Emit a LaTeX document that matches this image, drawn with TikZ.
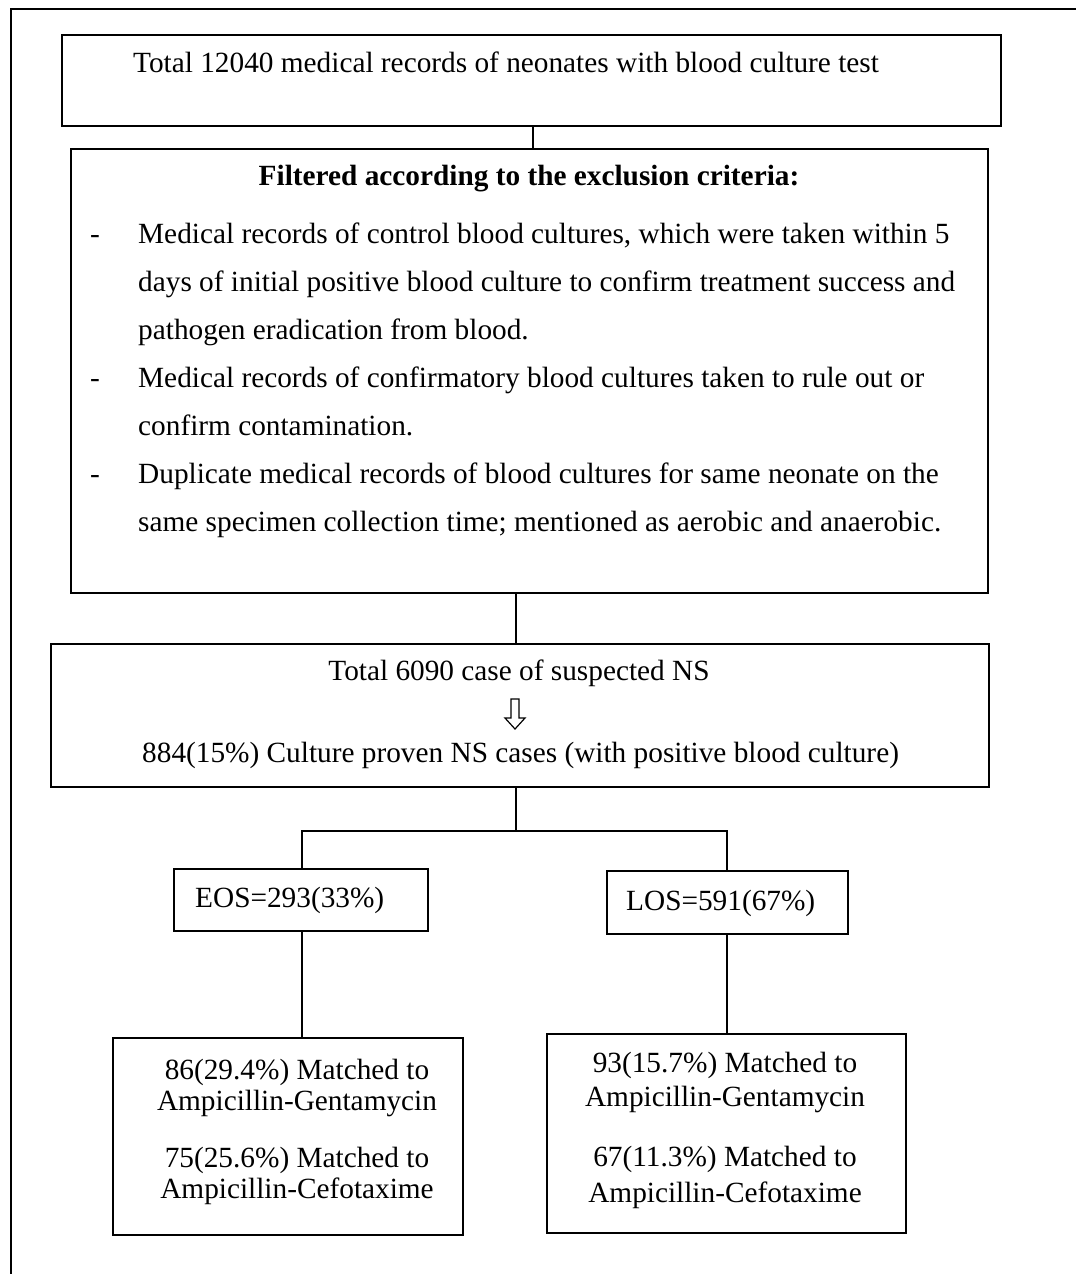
\documentclass[tikz,border=0pt]{standalone}
\usepackage{fontspec}
\setmainfont{Liberation Serif}
\begin{document}
\begin{tikzpicture}[x=1pt,y=-1pt,
  box/.style={draw,line width=1.6pt,inner sep=0pt,anchor=north west},
  conn/.style={line width=1.4pt},
  txt/.style={inner sep=0pt,font=\fontsize{29.3}{33}\selectfont},
  frame/.style={line width=1.6pt}]
\useasboundingbox (0,0) rectangle (1076,1274);
% outer frame (top and left only)
\coordinate (fb) at (11,1274);
\coordinate (fc) at (11,9);
\coordinate (fr) at (1076,9);
\draw[frame] (fb) -- (fc) -- (fr);
% boxes
\node[box,minimum width=939pt,minimum height=91pt] (b1) at (61,34) {};
\node[box,minimum width=917pt,minimum height=444pt] (b2) at (70,148) {};
\node[box,minimum width=938pt,minimum height=143pt] (b3) at (50,643) {};
\node[box,minimum width=254pt,minimum height=62pt] (eos) at (173,868) {};
\node[box,minimum width=241pt,minimum height=63pt] (los) at (606,870) {};
\node[box,minimum width=350pt,minimum height=197pt] (eb) at (112,1037) {};
\node[box,minimum width=359pt,minimum height=199pt] (lb) at (546,1033) {};
% texts
\node[txt,anchor=base west] (t0) at (133,72) {Total 12040 medical records of neonates with blood culture test};
\node[txt,anchor=base,font=\fontsize{29.3}{33}\selectfont\bfseries] (h) at (529,185) {Filtered according to the exclusion criteria:};
\foreach \i/\y in {1/243,4/387,6/483}{
  \node[txt,anchor=base west] (d\i) at (90,\y) {-};
}
\node[txt,anchor=base west] (l1) at (138,243) {Medical records of control blood cultures, which were taken within 5};
\node[txt,anchor=base west] (l2) at (138,291) {days of initial positive blood culture to confirm treatment success and};
\node[txt,anchor=base west] (l3) at (138,339) {pathogen eradication from blood.};
\node[txt,anchor=base west] (l4) at (138,387) {Medical records of confirmatory blood cultures taken to rule out or};
\node[txt,anchor=base west] (l5) at (138,435) {confirm contamination.};
\node[txt,anchor=base west] (l6) at (138,483) {Duplicate medical records of blood cultures for same neonate on the};
\node[txt,anchor=base west] (l7) at (138,531) {same specimen collection time; mentioned as aerobic and anaerobic.};
\node[txt,anchor=base] (s1) at (519,680) {Total 6090 case of suspected NS};
\node[txt,anchor=base west] (s2) at (142,762) {884(15\%) Culture proven NS cases (with positive blood culture)};
\node[txt,anchor=base west] (e1) at (195,907) {EOS=293(33\%)};
\node[txt,anchor=base west] (e2) at (626,910) {LOS=591(67\%)};
\node[txt,anchor=base] (m1) at (297,1079) {86(29.4\%) Matched to};
\node[txt,anchor=base] (m2) at (297,1110) {Ampicillin-Gentamycin};
\node[txt,anchor=base] (m3) at (297,1167) {75(25.6\%) Matched to};
\node[txt,anchor=base] (m4) at (297,1198) {Ampicillin-Cefotaxime};
\node[txt,anchor=base] (n1) at (725,1072) {93(15.7\%) Matched to};
\node[txt,anchor=base] (n2) at (725,1106) {Ampicillin-Gentamycin};
\node[txt,anchor=base] (n3) at (725,1166) {67(11.3\%) Matched to};
\node[txt,anchor=base] (n4) at (725,1202) {Ampicillin-Cefotaxime};
% hollow down arrow
\draw[line width=1.2pt,fill=white] (511,699) -- (519,699) -- (519,718) -- (525,718) -- (515,729) -- (505,718) -- (511,718) -- cycle;
% connectors
\draw[conn] (b1.south -| 533,0) -- (b2.north -| 533,0);
\draw[conn] (b2.south -| 516,0) -- (b3.north -| 516,0);
\coordinate (j) at (516,831);
\draw[conn] (b3.south -| j) -- (j);
\draw[conn] (eos.north -| 302,0) |- (j) -| (los.north -| 727,0);
\draw[conn] (eos.south -| 302,0) -- (eb.north -| 302,0);
\draw[conn] (los.south -| 727,0) -- (lb.north -| 727,0);
\end{tikzpicture}
\end{document}
